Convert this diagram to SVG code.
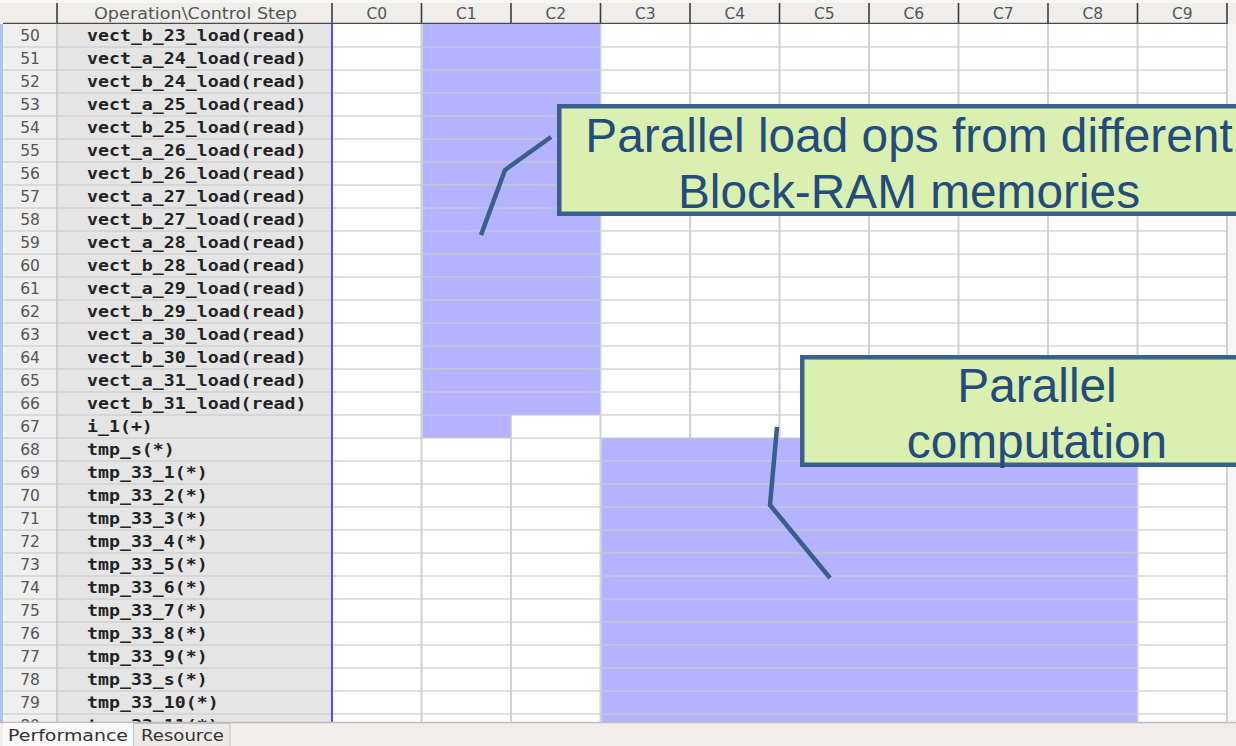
<svg xmlns="http://www.w3.org/2000/svg" width="1236" height="746" viewBox="0 0 1236 746">
  <style>
    .hdr { font-family: "DejaVu Sans", "Liberation Sans", sans-serif; font-size: 15.5px; fill: #555555; text-anchor: middle; }
    .num { font-family: "DejaVu Sans", "Liberation Sans", sans-serif; font-size: 15.5px; fill: #555555; text-anchor: middle; }
    .op { font-family: "DejaVu Sans Mono", "Liberation Mono", monospace; font-weight: bold; font-size: 15px; fill: #222222; }
    .tab { font-family: "DejaVu Sans", "Liberation Sans", sans-serif; font-size: 15.5px; fill: #333333; }
    .note { font-family: "Liberation Sans", Arial, sans-serif; font-size: 47.8px; fill: #234b7b; text-anchor: middle; }
    .box { fill: #d9f0b0; stroke: #3b5f8c; stroke-width: 4.5; }
    .lead { fill: none; stroke: #3b5f8c; stroke-width: 4.5; stroke-linejoin: round; }
    .busy { fill: #b3b3ff; }
  </style>
  <defs>
    <clipPath id="body">
      <rect x="0" y="24" width="1236" height="698"/>
    </clipPath>
  </defs>

  <!-- window background -->
  <rect x="0" y="0" width="1236" height="746" fill="#efeeec"/>

  <!-- header row -->
  <g id="header">
    <rect x="0" y="0" width="1236" height="24" fill="#efeeec"/>
    <rect x="0" y="0" width="1236" height="3" fill="#f6f6f5"/>
    <path d="M57 3V24M332 3V24M421.5 3V24M511 3V24M600.5 3V24M690 3V24M779.5 3V24M869 3V24M958.5 3V24M1048 3V24M1137.5 3V24M1227 3V24" stroke="#3c3c3c" stroke-width="1.6"/>
    <path d="M3 23.3H1227" stroke="#4a4a4a" stroke-width="1.2"/>
    <text class="hdr" x="195.5" y="19" textLength="203" lengthAdjust="spacingAndGlyphs">Operation\Control Step</text>
    <text class="hdr" x="376.75" y="19">C0</text>
    <text class="hdr" x="466.25" y="19">C1</text>
    <text class="hdr" x="555.75" y="19">C2</text>
    <text class="hdr" x="645.25" y="19">C3</text>
    <text class="hdr" x="734.75" y="19">C4</text>
    <text class="hdr" x="824.25" y="19">C5</text>
    <text class="hdr" x="913.75" y="19">C6</text>
    <text class="hdr" x="1003.25" y="19">C7</text>
    <text class="hdr" x="1092.75" y="19">C8</text>
    <text class="hdr" x="1182.25" y="19">C9</text>
  </g>

  <!-- schedule grid -->
  <g id="grid" clip-path="url(#body)">
    <rect x="0" y="24" width="3" height="698" fill="#adc3e8"/>
    <rect x="3" y="24" width="54" height="698" fill="#efefef"/>
    <rect x="57" y="24" width="275" height="698" fill="#e5e5e5"/>
    <rect x="332" y="24" width="895" height="698" fill="#ffffff"/>
    <rect x="1228" y="24" width="8" height="698" fill="#f6f6f6"/>

    <!-- column lines -->
    <path d="M421.5 24V722M511 24V722M600.5 24V722M690 24V722M779.5 24V722M869 24V722M958.5 24V722M1048 24V722M1137.5 24V722M1227 24V722" stroke="#d2d2d2" stroke-width="2"/>
    <path d="M57 24V722" stroke="#c4c4c4" stroke-width="1.5"/>

    <!-- occupied control steps -->
    <rect class="busy" x="422.5" y="24" width="177.5" height="391"/>
    <rect class="busy" x="422.5" y="415" width="88" height="23"/>
    <rect class="busy" x="601.5" y="438" width="535.5" height="284"/>

    <!-- row lines -->
    <path d="M3 47H1227M3 70H1227M3 93H1227M3 116H1227M3 139H1227M3 162H1227M3 185H1227M3 208H1227M3 231H1227M3 254H1227M3 277H1227M3 300H1227M3 323H1227M3 346H1227M3 369H1227M3 392H1227M3 415H1227M3 438H1227M3 461H1227M3 484H1227M3 507H1227M3 530H1227M3 553H1227M3 576H1227M3 599H1227M3 622H1227M3 645H1227M3 668H1227M3 691H1227M3 714H1227" stroke="#c8c8c8" stroke-width="1.6" stroke-opacity="0.75"/>

    <path d="M332 24V722" stroke="#1a1aff" stroke-width="1.5"/>

    <!-- row numbers -->
    <g class="num">
      <text x="30" y="41">50</text>
      <text x="30" y="64">51</text>
      <text x="30" y="87">52</text>
      <text x="30" y="110">53</text>
      <text x="30" y="133">54</text>
      <text x="30" y="156">55</text>
      <text x="30" y="179">56</text>
      <text x="30" y="202">57</text>
      <text x="30" y="225">58</text>
      <text x="30" y="248">59</text>
      <text x="30" y="271">60</text>
      <text x="30" y="294">61</text>
      <text x="30" y="317">62</text>
      <text x="30" y="340">63</text>
      <text x="30" y="363">64</text>
      <text x="30" y="386">65</text>
      <text x="30" y="409">66</text>
      <text x="30" y="432">67</text>
      <text x="30" y="455">68</text>
      <text x="30" y="478">69</text>
      <text x="30" y="501">70</text>
      <text x="30" y="524">71</text>
      <text x="30" y="547">72</text>
      <text x="30" y="570">73</text>
      <text x="30" y="593">74</text>
      <text x="30" y="616">75</text>
      <text x="30" y="639">76</text>
      <text x="30" y="662">77</text>
      <text x="30" y="685">78</text>
      <text x="30" y="708">79</text>
      <text x="30" y="731">80</text>
    </g>

    <!-- operation names (monospace, widened) -->
    <g class="op" transform="matrix(1.215 0 0 1 87 0)">
      <text x="0" y="41">vect_b_23_load(read)</text>
      <text x="0" y="64">vect_a_24_load(read)</text>
      <text x="0" y="87">vect_b_24_load(read)</text>
      <text x="0" y="110">vect_a_25_load(read)</text>
      <text x="0" y="133">vect_b_25_load(read)</text>
      <text x="0" y="156">vect_a_26_load(read)</text>
      <text x="0" y="179">vect_b_26_load(read)</text>
      <text x="0" y="202">vect_a_27_load(read)</text>
      <text x="0" y="225">vect_b_27_load(read)</text>
      <text x="0" y="248">vect_a_28_load(read)</text>
      <text x="0" y="271">vect_b_28_load(read)</text>
      <text x="0" y="294">vect_a_29_load(read)</text>
      <text x="0" y="317">vect_b_29_load(read)</text>
      <text x="0" y="340">vect_a_30_load(read)</text>
      <text x="0" y="363">vect_b_30_load(read)</text>
      <text x="0" y="386">vect_a_31_load(read)</text>
      <text x="0" y="409">vect_b_31_load(read)</text>
      <text x="0" y="432">i_1(+)</text>
      <text x="0" y="455">tmp_s(*)</text>
      <text x="0" y="478">tmp_33_1(*)</text>
      <text x="0" y="501">tmp_33_2(*)</text>
      <text x="0" y="524">tmp_33_3(*)</text>
      <text x="0" y="547">tmp_33_4(*)</text>
      <text x="0" y="570">tmp_33_5(*)</text>
      <text x="0" y="593">tmp_33_6(*)</text>
      <text x="0" y="616">tmp_33_7(*)</text>
      <text x="0" y="639">tmp_33_8(*)</text>
      <text x="0" y="662">tmp_33_9(*)</text>
      <text x="0" y="685">tmp_33_s(*)</text>
      <text x="0" y="708">tmp_33_10(*)</text>
      <text x="0" y="731">tmp_33_11(*)</text>
    </g>
  </g>

  <!-- view tabs -->
  <g id="tabs">
    <rect x="0" y="722" width="1236" height="24" fill="#efeeec"/>
    <path d="M0 722.5H1236" stroke="#bdbdbd" stroke-width="1.5"/>
    <rect x="3" y="723" width="130" height="23" fill="#fafafa"/>
    <rect x="133.5" y="723.5" width="96.5" height="23" fill="#ebeae8" stroke="#c2c2c2" stroke-width="1"/>
    <text class="tab" x="8" y="741" textLength="120" lengthAdjust="spacingAndGlyphs">Performance</text>
    <text class="tab" x="141" y="741" textLength="83" lengthAdjust="spacingAndGlyphs">Resource</text>
  </g>

  <!-- leader lines -->
  <g id="connectors">
    <polyline class="lead" points="551,137 505,170 481,235"/>
    <polyline class="lead" points="777,427 770,505 830,578"/>
  </g>

  <g id="note-load">
    <rect class="box" x="559.25" y="106.25" width="720" height="107.5"/>
    <text class="note" x="909" y="152">Parallel load ops from different</text>
    <text class="note" x="909" y="208">Block-RAM memories</text>
  </g>

  <g id="note-compute">
    <rect class="box" x="802.25" y="357.25" width="480" height="107.5"/>
    <text class="note" x="1037" y="402">Parallel</text>
    <text class="note" x="1037" y="458">computation</text>
  </g>
</svg>
